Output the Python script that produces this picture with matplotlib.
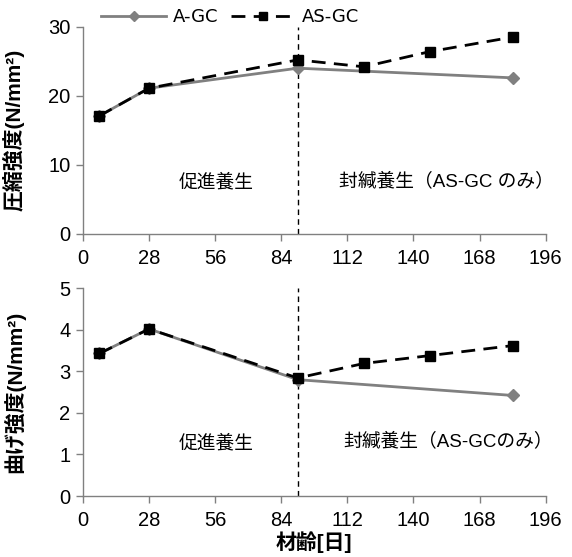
import matplotlib
matplotlib.use("Agg")
import matplotlib.pyplot as plt

plt.rcParams['font.family'] = ['Liberation Sans', 'Noto Sans CJK JP', 'DejaVu Sans']

days_a = [7, 28, 91, 182]
days_as = [7, 28, 91, 119, 147, 182]
comp_a = [17.1, 21.1, 24.0, 22.6]
comp_as = [17.1, 21.1, 25.2, 24.2, 26.4, 28.5]
flex_a = [3.43, 4.02, 2.80, 2.42]
flex_as = [3.43, 4.02, 2.84, 3.19, 3.38, 3.62]
switch_day = 91
xticks = [0, 28, 56, 84, 112, 140, 168, 196]
gray = '#808080'

fig = plt.figure(figsize=(5.72, 5.57), dpi=100)
ax1 = fig.add_axes([0.145, 0.580, 0.809, 0.372])
ax2 = fig.add_axes([0.145, 0.1095, 0.809, 0.373])

def style(ax, ymax, ystep):
    for s in ['top', 'right']:
        ax.spines[s].set_visible(False)
    for s in ['left', 'bottom']:
        ax.spines[s].set_color(gray)
        ax.spines[s].set_linewidth(1.0)
    ax.set_xlim(0, 196)
    ax.set_ylim(0, ymax)
    ax.set_xticks(xticks)
    ax.set_yticks(list(range(0, ymax + 1, ystep)))
    ax.tick_params(axis='both', colors=gray, labelcolor='black', labelsize=14.5,
                   length=5, width=1.0, direction='out')
    ax.tick_params(axis='x', pad=6)
    ax.tick_params(axis='y', pad=4)
    ax.axvline(switch_day, color='black', lw=1.0, ls=(0, (4, 3)), zorder=1)

l1, = ax1.plot(days_a, comp_a, color=gray, lw=2, marker='D', ms=6, mfc=gray, mec=gray, label='A-GC', zorder=3)
l2, = ax1.plot(days_as, comp_as, color='black', lw=2, ls=(0, (5, 3)), marker='s', ms=7, label='AS-GC', zorder=4)
style(ax1, 30, 10)
ax1.set_ylabel('圧縮強度(N/mm²)', fontsize=15, fontweight='bold', labelpad=3)
ax1.yaxis.set_label_coords(-0.125, 0.5)
ax1.text(56.5, 7.4, '促進養生', fontsize=13.5, ha='center', va='center')
ax1.text(154, 7.5, '封緘養生（AS-GC のみ）', fontsize=13.5, ha='center', va='center')
ax1.legend(handles=[l1, l2], loc='center left', bbox_to_anchor=(0.02, 1.045), ncol=2, frameon=False,
           handlelength=3.6, columnspacing=0.7, handletextpad=0.35, borderpad=0, markerscale=0.85,
           prop={'family': 'DejaVu Sans', 'size': 13})

ax2.plot(days_a, flex_a, color=gray, lw=2, marker='D', ms=6, mfc=gray, mec=gray, zorder=3)
ax2.plot(days_as, flex_as, color='black', lw=2, ls=(0, (5, 3)), marker='s', ms=7, zorder=4)
style(ax2, 5, 1)
ax2.set_ylabel('曲げ強度(N/mm²)', fontsize=15, fontweight='bold', labelpad=3)
ax2.yaxis.set_label_coords(-0.125, 0.5)
ax2.text(56.5, 1.27, '促進養生', fontsize=13.5, ha='center', va='center')
ax2.text(154.5, 1.3, '封緘養生（AS-GCのみ）', fontsize=13.5, ha='center', va='center')
ax2.set_xlabel('材齢[日]', fontsize=15, fontweight='bold', labelpad=1)

fig.savefig('out.png', dpi=100)
